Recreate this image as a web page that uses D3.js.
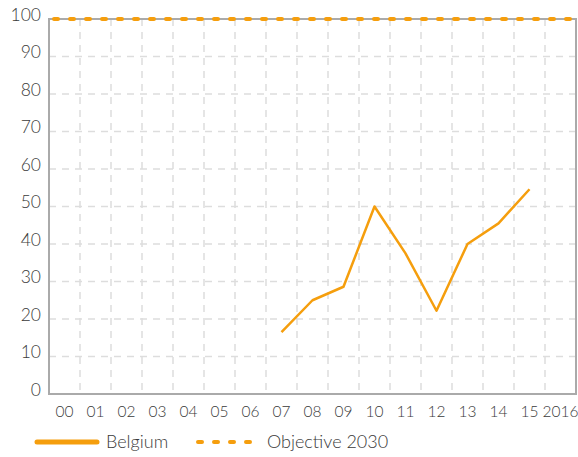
<!DOCTYPE html>
<meta charset="utf-8">
<head>
    <title>Belgium</title>
</head>

<style>
body { margin: 0; background: #fff; }

.axis text {
  font-family: Lato, sans-serif;
  font-weight: 300;
  fill: #3a3a3a;
}

.grid line {
  stroke: #ddd;
  stroke-width: 1.5;
  stroke-dasharray: 7,6;
}

.legend text {
  font: 300 18px Lato, sans-serif;
  fill: #3a3a3a;
}
</style>
<body>
<script src="https://cdn.jsdelivr.net/npm/d3@7"></script>
<script>

var years = ["00", "01", "02", "03", "04", "05", "06", "07", "08", "09",
             "10", "11", "12", "13", "14", "15", "2016"];

var belgium = [null, null, null, null, null, null, null,
               16.5, 25, 28.6, 50, 37.5, 22.2, 40, 45.5, 54.6, null];

var objective = [100, 100, 100, 100, 100, 100, 100, 100, 100, 100,
                 100, 100, 100, 100, 100, 100, 100];

var yTicks = [0, 10, 20, 30, 40, 50, 60, 70, 80, 90, 100];

var orange = "#f59e0d";

var margin = {top: 19, right: 2, bottom: 63, left: 49},
    width = 578 - margin.left - margin.right,
    height = 457 - margin.top - margin.bottom;

var x = d3.scaleBand()
    .domain(years)
    .range([0, width]);

var y = d3.scaleLinear()
    .domain([0, 100])
    .range([height, 0]);

var svg = d3.select("body").append("svg")
    .attr("width", 578)
    .attr("height", 457)
  .append("g")
    .attr("transform", "translate(" + margin.left + "," + margin.top + ")");

// grid
svg.append("g")
    .attr("class", "grid")
  .selectAll("line.h")
    .data(yTicks.slice(1, -1))
  .enter().append("line")
    .attr("x1", 0)
    .attr("x2", width)
    .attr("y1", function(d) { return y(d); })
    .attr("y2", function(d) { return y(d); });

svg.select(".grid").selectAll("line.v")
    .data(years.slice(1))
  .enter().append("line")
    .attr("class", "v")
    .attr("x1", function(d) { return x(d); })
    .attr("x2", function(d) { return x(d); })
    .attr("y1", 0)
    .attr("y2", height);

// frame
svg.append("rect")
    .attr("width", width)
    .attr("height", height)
    .style("fill", "none")
    .style("stroke", "#aaa")
    .style("stroke-width", 2);

// axes
var yAxis = svg.append("g")
    .attr("class", "axis axis--y")
    .call(d3.axisLeft(y).tickValues(yTicks).tickSize(0).tickPadding(8));
yAxis.select(".domain").remove();
yAxis.selectAll("text")
    .style("font-size", "17.5px")
    .attr("dy", "0.06em");

var xAxis = svg.append("g")
    .attr("class", "axis axis--x")
    .attr("transform", "translate(0," + height + ")")
    .call(d3.axisBottom(x).tickSize(0).tickPadding(12));
xAxis.select(".domain").remove();
xAxis.selectAll("text")
    .style("font-size", "15.5px");

// lines
var lineBelgium = d3.line()
    .defined(function(d) { return d != null; })
    .x(function(d, i) { return x(years[i]) + x.bandwidth() / 2; })
    .y(function(d) { return y(d); });

var lineObjective = d3.line()
    .x(function(d, i) {
      if (i === 0) return 0;
      if (i === years.length - 1) return width;
      return x(years[i]) + x.bandwidth() / 2;
    })
    .y(function(d) { return y(d); });

svg.append("path")
    .datum(belgium)
    .style("fill", "none")
    .style("stroke", orange)
    .style("stroke-width", 2.5)
    .style("stroke-linejoin", "round")
    .attr("d", lineBelgium);

svg.append("path")
    .datum(objective)
    .style("fill", "none")
    .style("stroke", orange)
    .style("stroke-width", 4)
    .style("stroke-linecap", "round")
    .style("stroke-dasharray", "4,12")
    .style("stroke-dashoffset", 11)
    .attr("d", lineObjective);

// legend
var legend = d3.select("svg").append("g")
    .attr("class", "legend")
    .attr("transform", "translate(0,442)");

legend.append("line")
    .attr("x1", 37).attr("x2", 97)
    .style("stroke", orange)
    .style("stroke-width", 5)
    .style("stroke-linecap", "round");

legend.append("text")
    .attr("x", 106)
    .attr("y", 6)
    .text("Belgium");

legend.append("line")
    .attr("x1", 198).attr("x2", 250)
    .style("stroke", orange)
    .style("stroke-width", 4)
    .style("stroke-linecap", "round")
    .style("stroke-dasharray", "4,12");

legend.append("text")
    .attr("x", 267)
    .attr("y", 6)
    .text("Objective 2030");

</script>
